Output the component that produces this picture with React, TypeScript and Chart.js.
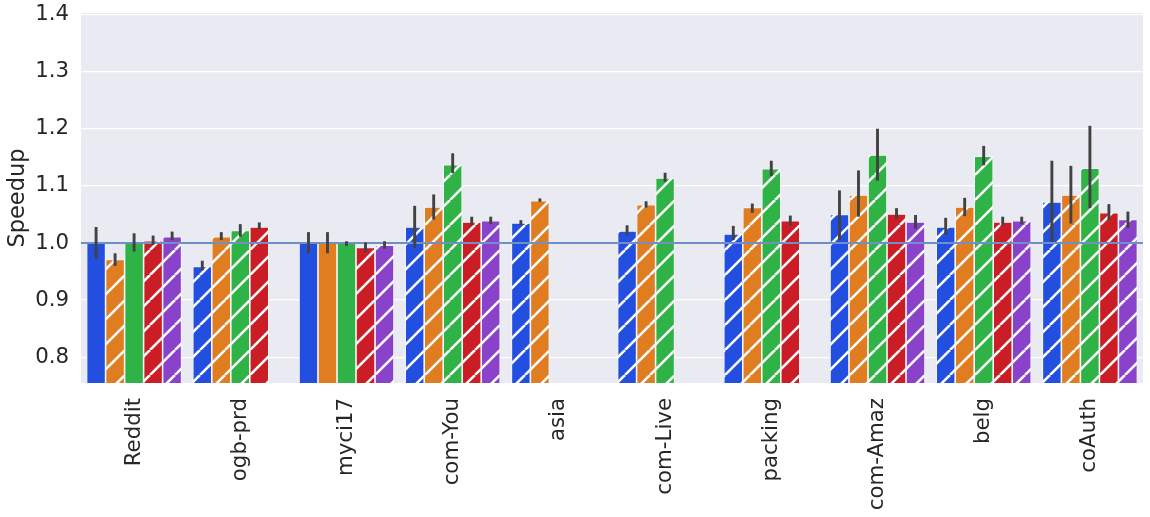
import { useEffect, useRef } from "react";
import { Chart, registerables } from "chart.js";

Chart.register(...registerables);

const categories = ["Reddit", "ogb-prd", "myci17", "com-You", "asia", "com-Live", "packing", "com-Amaz", "belg", "coAuth"];
const yTicks = [0.8, 0.9, 1.0, 1.1, 1.2, 1.3, 1.4];

const speedup1 = [1.0, 0.959, 1.0, 1.028, 1.035, 1.021, 1.016, 1.05, 1.028, 1.072];
const low1 = [0.972, 0.952, 0.982, 0.991, 1.031, 1.013, 1.005, 1.005, 1.014, 1.002];
const high1 = [1.028, 0.969, 1.019, 1.065, 1.04, 1.031, 1.03, 1.092, 1.044, 1.144];

const speedup2 = [0.971, 1.011, 1.0, 1.063, 1.074, 1.067, 1.062, 1.084, 1.063, 1.084];
const low2 = [0.96, 1.005, 0.982, 1.041, 1.072, 1.062, 1.053, 1.046, 1.047, 1.034];
const high2 = [0.982, 1.019, 1.019, 1.085, 1.078, 1.073, 1.069, 1.127, 1.079, 1.135];

const speedup3 = [1.0, 1.022, 1.0, 1.137, null, 1.114, 1.13, 1.154, 1.152, 1.131];
const low3 = [0.985, 1.011, 0.995, 1.122, null, 1.107, 1.117, 1.109, 1.136, 1.061];
const high3 = [1.017, 1.033, 1.003, 1.157, null, 1.123, 1.144, 1.2, 1.17, 1.205];

const speedup4 = [1.004, 1.028, 0.992, 1.037, null, null, 1.039, 1.051, 1.037, 1.053];
const low4 = [0.997, 1.024, 0.984, 1.031, null, null, 1.031, 1.042, 1.031, 1.04];
const high4 = [1.013, 1.036, 1.001, 1.046, null, null, 1.048, 1.061, 1.046, 1.068];

const speedup5 = [1.011, null, 0.996, 1.039, null, null, null, 1.037, 1.039, 1.041];
const low5 = [1.005, null, 0.99, 1.033, null, null, null, 1.025, 1.033, 1.026];
const high5 = [1.02, null, 1.003, 1.046, null, null, null, 1.049, 1.046, 1.055];

const colors = ["#224fdf", "#df7d20", "#30b346", "#cb1d25", "#8a42cb"];
const textColor = "#262626";
const font = "DejaVu Sans";

function hatch(color: string) {
  const s = 25;
  const c = document.createElement("canvas");
  c.width = s;
  c.height = s;
  const g = c.getContext("2d")!;
  g.fillStyle = color;
  g.fillRect(0, 0, s, s);
  g.strokeStyle = "#ffffff";
  g.lineWidth = 2.6;
  g.beginPath();
  for (let k = -1; k <= 1; k++) {
    g.moveTo(k * s, s);
    g.lineTo(k * s + s, 0);
  }
  g.stroke();
  return g.createPattern(c, "repeat")!;
}

const overlay = {
  id: "overlay",
  afterDatasetsDraw(chart: any) {
    const { ctx, chartArea, scales } = chart;
    const y = scales.y;
    ctx.save();
    ctx.beginPath();
    ctx.rect(chartArea.left, chartArea.top, chartArea.right - chartArea.left, chartArea.bottom - chartArea.top);
    ctx.clip();
    // reference line at 1.0
    const y1 = y.getPixelForValue(1.0);
    ctx.strokeStyle = "#6f8fc5";
    ctx.lineWidth = 2;
    ctx.beginPath();
    ctx.moveTo(chartArea.left, y1);
    ctx.lineTo(chartArea.right, y1);
    ctx.stroke();
    // error bars
    ctx.strokeStyle = "#424242";
    ctx.lineWidth = 2.9;
    chart.data.datasets.forEach((ds: any, di: number) => {
      const meta = chart.getDatasetMeta(di);
      meta.data.forEach((bar: any, i: number) => {
        const lo = ds.errLow[i];
        const hi = ds.errHigh[i];
        if (lo == null || hi == null) return;
        ctx.beginPath();
        ctx.moveTo(bar.x, y.getPixelForValue(lo));
        ctx.lineTo(bar.x, y.getPixelForValue(hi));
        ctx.stroke();
      });
    });
    ctx.restore();
  },
};

export default function App() {
  const chartRef = useRef<HTMLCanvasElement>(null);

  useEffect(() => {
    document.body.style.margin = "0";
    if (!chartRef.current) return;
    const ctx = chartRef.current.getContext("2d");
    if (!ctx) return;

    const values = [speedup1, speedup2, speedup3, speedup4, speedup5];
    const lows = [low1, low2, low3, low4, low5];
    const highs = [high1, high2, high3, high4, high5];

    const myChart = new Chart(ctx, {
      type: "bar",
      data: {
        labels: categories,
        datasets: values.map((vals, k) => {
          const pattern = hatch(colors[k]);
          return {
            label: "series " + (k + 1),
            data: vals,
            errLow: lows[k],
            errHigh: highs[k],
            backgroundColor: (c: any) => (c.raw === 1 ? colors[k] : pattern),
            borderColor: "#ffffff",
            borderWidth: 0.8,
            borderSkipped: false,
            categoryPercentage: 0.895,
            barPercentage: 1.0,
          } as any;
        }),
      },
      options: {
        responsive: true,
        maintainAspectRatio: false,
        animation: false,
        layout: { padding: { top: 13, right: 7, left: 0, bottom: 0 } },
        plugins: {
          legend: { display: false },
          tooltip: { enabled: false },
        },
        scales: {
          x: {
            grid: { display: false },
            border: { display: false },
            ticks: {
              color: textColor,
              font: { family: font, size: 21.3 },
              maxRotation: 90,
              minRotation: 90,
              padding: 7,
            },
            afterFit: (scale: any) => {
              scale.height = 134;
            },
          },
          y: {
            min: 0.755,
            max: 1.4025,
            grid: { color: "#ffffff", lineWidth: 1.3, drawTicks: false },
            border: { display: false },
            ticks: {
              color: textColor,
              font: { family: font, size: 21.3 },
              padding: 12,
              callback: (v: any) => Number(v).toFixed(1),
            },
            afterBuildTicks: (scale: any) => {
              scale.ticks = yTicks.map((v) => ({ value: v }));
            },
            afterFit: (scale: any) => {
              scale.width = 81;
              scale.paddingTop = 0;
              scale.paddingBottom = 0;
            },
            title: {
              display: true,
              text: "Speedup",
              color: textColor,
              font: { family: font, size: 22.5 },
              padding: { top: 5, bottom: 0 },
            },
          },
        },
      },
      plugins: [
        {
          id: "bg",
          beforeDraw(chart: any) {
            const { ctx: c, chartArea: a } = chart;
            c.save();
            c.fillStyle = "#eaeaf2";
            c.fillRect(a.left, a.top, a.right - a.left, a.bottom - a.top);
            c.restore();
          },
        },
        overlay,
      ],
    });

    return () => {
      myChart.destroy();
    };
  }, []);

  return (
    <div style={{ width: 1150, height: 517, position: "relative", background: "#ffffff" }}>
      <canvas ref={chartRef} />
    </div>
  );
}
